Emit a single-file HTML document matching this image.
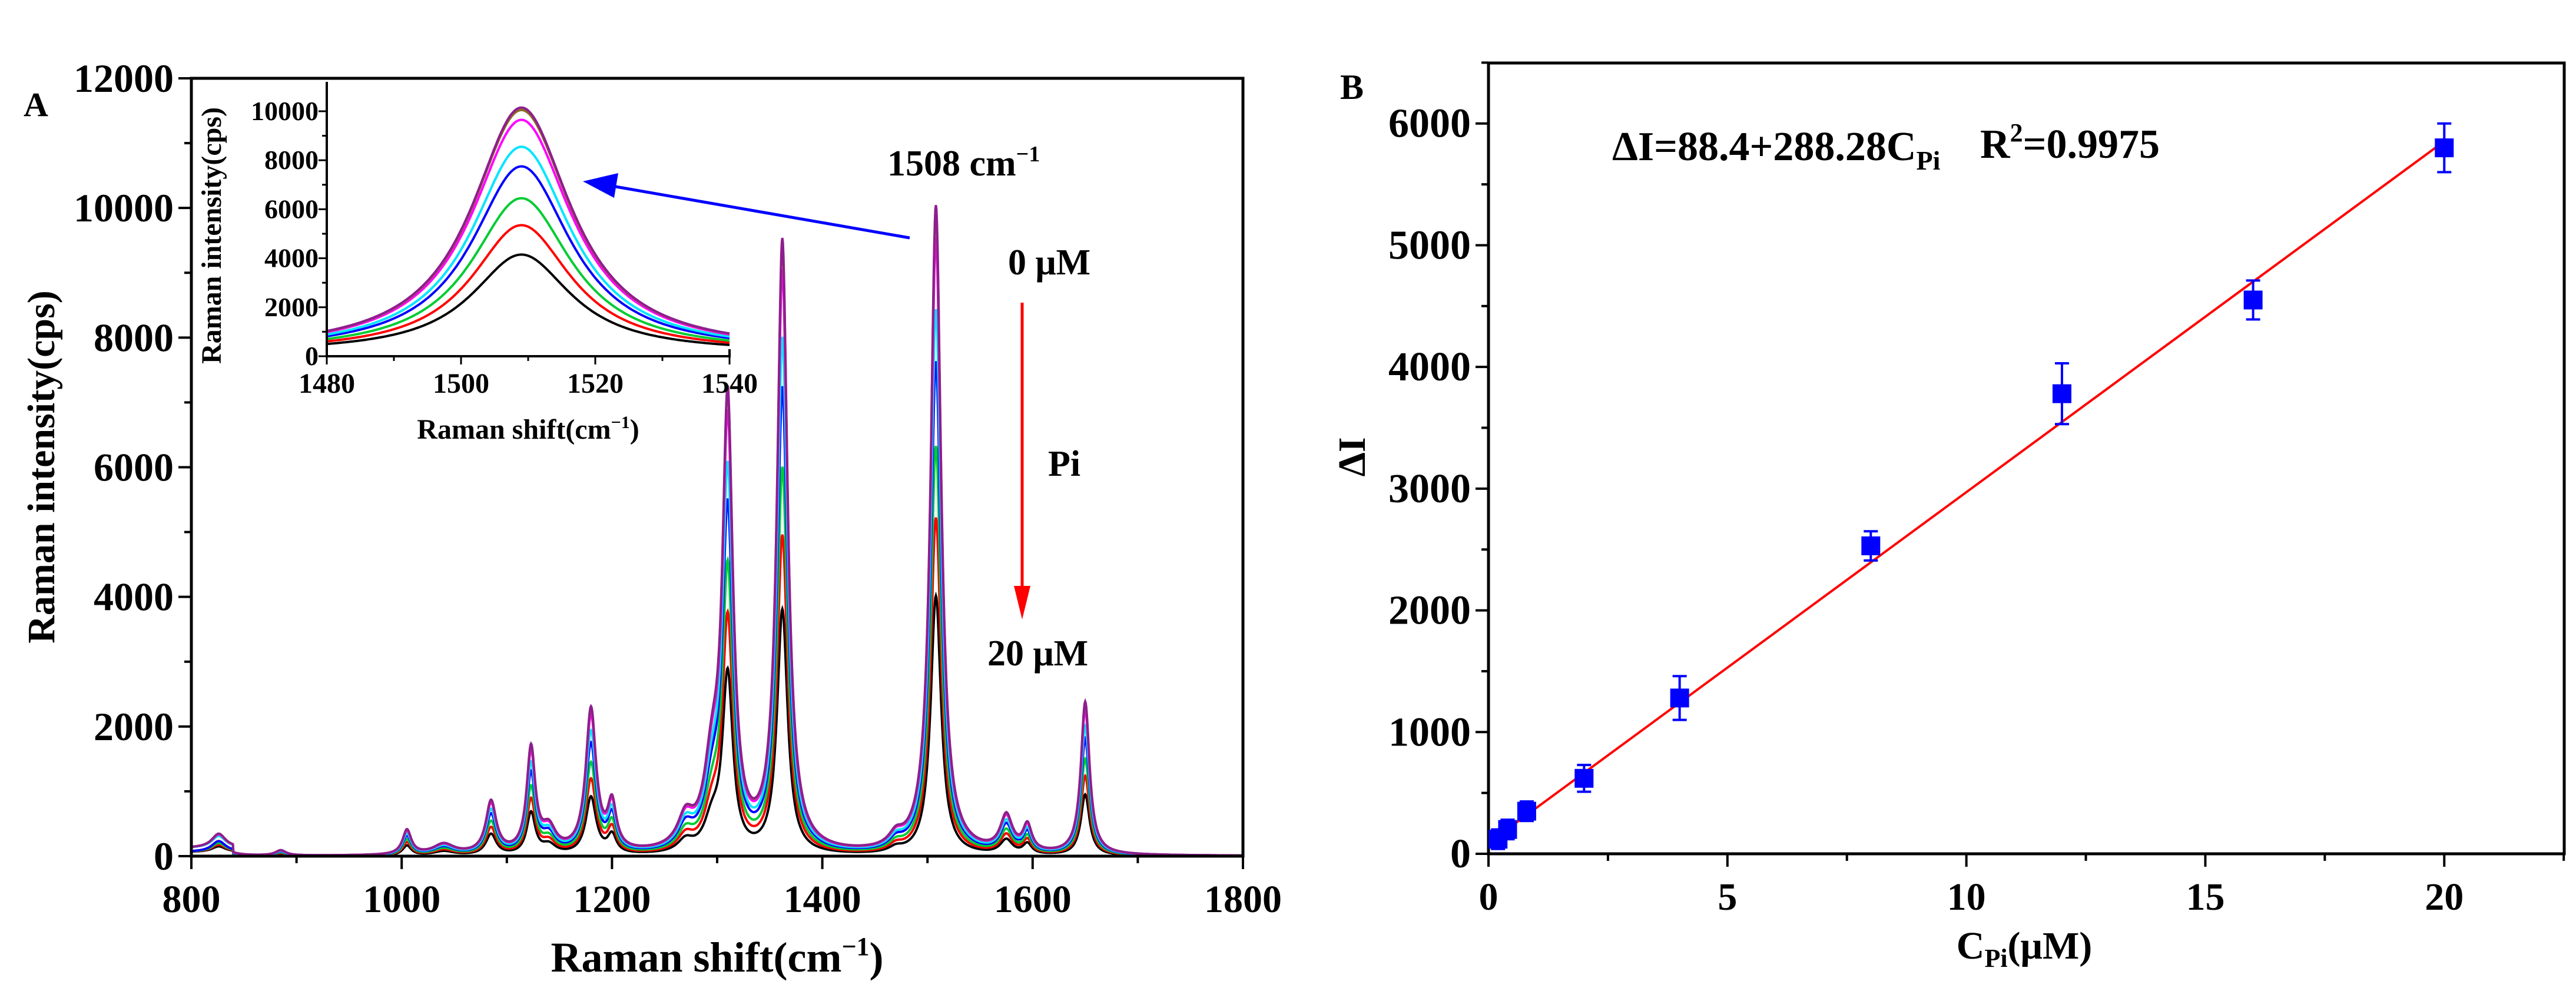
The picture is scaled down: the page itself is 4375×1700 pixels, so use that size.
<!DOCTYPE html>
<html><head><meta charset="utf-8"><style>
html,body{margin:0;padding:0;background:#fff}
svg{display:block;font-family:"Liberation Serif",serif;font-weight:bold}
</style></head><body>
<svg id="fig" width="4375" height="1700" viewBox="0 0 4375 1700" xmlns="http://www.w3.org/2000/svg">
<g id="pa"></g>
<g id="pb"></g>
</svg>
<script>
// ---------- Panel A data ----------
const seriesColors = ["#000000","#ff0000","#00cc33","#0000ff","#00e5ff","#ff00ff","#8b6b1e","#8e1e8e"];
const seriesScale = [0.40,0.52,0.63,0.76,0.84,0.95,0.99,1.0];
const peakPos = [826,885,1005,1040,1085,1123,1140,1180,1200,1270,1295,1310,1362,1470,1508,1575,1595,1650];
const peakHeight = [220,80,380,160,800,1600,350,2200,700,450,1100,6800,9400,180,10000,550,400,2350];
const peakWidth = [8,6,5,12,6,5,8,6,5,9,9,6,6,8,6,7,5,5];
const xTicksA = [800,1000,1200,1400,1600,1800];
const yTicksA = [0,2000,4000,6000,8000,10000,12000];
const insetXTicks = [1480,1500,1520,1540];
const insetYTicks = [0,2000,4000,6000,8000,10000];
const insetPeakPos = 1509, insetWidth = 9, insetBase = 10000;
// ---------- Panel B data ----------
const concX = [0.2,0.4,0.8,2,4,8,12,16,20];
const deltaI = [120,200,350,620,1280,2530,3780,4550,5800];
const errI = [80,80,80,110,180,120,250,160,200];
const fitA = 88.4, fitB = 288.28;
const xTicksB = [0,5,10,15,20];
const yTicksB = [0,1000,2000,3000,4000,5000,6000];

const NS="http://www.w3.org/2000/svg";
function mk(parent,tag,attrs,text){const e=document.createElementNS(NS,tag);for(const k in attrs)e.setAttribute(k,attrs[k]);if(text!==undefined)e.textContent=text;parent.appendChild(e);return e;}

// ---------- Panel A ----------
const pa=document.getElementById('pa');
const AL=325,AR=2111,AT=133,AB=1454;
const ax=v=>AL+(v-800)/1000*(AR-AL), ay=v=>AB-v/12000*(AB-AT);
function specS(x,s){let y=0;for(let i=0;i<peakPos.length;i++){const d=(x-peakPos[i])/peakWidth[i];y+=peakHeight[i]/(1+d*d);}return y*seriesScale[s]+ (x<840?(s>=4?120:60):0);}
const clipA=mk(pa,'clipPath',{id:'clipA'});mk(clipA,'rect',{x:AL,y:AT,width:AR-AL,height:AB-AT});
const gs=mk(pa,'g',{'clip-path':'url(#clipA)'});

for(let s=0;s<seriesColors.length;s++){let d='';for(let x=800;x<=1800;x+=0.5){d+=(x===800?'M':'L')+ax(x).toFixed(1)+','+ay(specS(x,s)).toFixed(1);}
 const p=mk(gs,'path',{d:d,fill:'none',stroke:seriesColors[s],'stroke-width':4});
 }
mk(pa,'rect',{x:AL,y:AT,width:AR-AL,height:AB-AT,fill:'none',stroke:'#000','stroke-width':5,});
for(let v=800;v<=1800;v+=100){const X=ax(v);mk(pa,'line',{x1:X,y1:AB,x2:X,y2:AB+(v%200===0?22:12),stroke:'#000','stroke-width':4});}
xTicksA.forEach(v=>{const t=mk(pa,'text',{x:ax(v),y:AB+95,'font-size':66,'text-anchor':'middle'},v);});
for(let v=0;v<=12000;v+=1000){const Y=ay(v);mk(pa,'line',{x1:AL,y1:Y,x2:AL-(v%2000===0?22:12),y2:Y,stroke:'#000','stroke-width':4});}
yTicksA.forEach(v=>{const t=mk(pa,'text',{x:AL-30,y:ay(v)+23,'font-size':68,'text-anchor':'end'},v);});
mk(pa,'text',{x:1218,y:1650,'font-size':72,'text-anchor':'middle',}).innerHTML='Raman shift(cm<tspan dy="-28" font-size="44">−1</tspan><tspan dy="28">)</tspan>';
mk(pa,'text',{x:0,y:0,'font-size':66,'text-anchor':'middle',transform:'translate(92,793) rotate(-90)',},'Raman intensity(cps)');
mk(pa,'text',{x:40,y:197,'font-size':58,},'A');
mk(pa,'text',{x:1507,y:298,'font-size':62,}).innerHTML='1508 cm<tspan dy="-24" font-size="38">−1</tspan>';
mk(pa,'text',{x:1712,y:466,'font-size':62,},'0 μM');
mk(pa,'text',{x:1780,y:808,'font-size':62,},'Pi');
mk(pa,'text',{x:1677,y:1130,'font-size':62,},'20 μM');
// red arrow
mk(pa,'line',{x1:1736,y1:514,x2:1736,y2:1010,stroke:'#ff0000','stroke-width':5,});
mk(pa,'polygon',{points:'1722,995 1750,995 1736,1052',fill:'#ff0000'});
// inset
const IL=555,IR=1239,IT=139,IB=605;
const ix=v=>IL+(v-1480)/60*(IR-IL), iy=v=>IB-v/11200*(IB-IT);
const ins=mk(pa,'g',{});
mk(ins,'rect',{x:IL,y:IT,width:IR-IL,height:IB-IT,fill:'#fff'});
for(let s=0;s<seriesColors.length;s++){let d='';for(let x=1480;x<=1540;x+=0.25){const dd=(x-insetPeakPos)/insetWidth;const y=insetBase*seriesScale[s]/(1+dd*dd)+150;d+=(x===1480?'M':'L')+ix(x).toFixed(1)+','+iy(y).toFixed(1);}
 const p=mk(ins,'path',{d:d,fill:'none',stroke:seriesColors[s],'stroke-width':4});
 }
mk(ins,'polyline',{points:`${IL},${IT} ${IL},${IB} ${IR},${IB} ${IR},${IB-12}`,fill:'none',stroke:'#000','stroke-width':4});
for(let v=1480;v<=1540;v+=10){mk(ins,'line',{x1:ix(v),y1:IB,x2:ix(v),y2:IB+(v%20===0?14:8),stroke:'#000','stroke-width':3});}
insetXTicks.forEach(v=>{const t=mk(ins,'text',{x:ix(v),y:IB+62,'font-size':48,'text-anchor':'middle'},v);});
for(let v=0;v<=10000;v+=1000){mk(ins,'line',{x1:IL,y1:iy(v),x2:IL-(v%2000===0?14:8),y2:iy(v),stroke:'#000','stroke-width':3});}
insetYTicks.forEach(v=>{const t=mk(ins,'text',{x:IL-14,y:iy(v)+15,'font-size':46,'text-anchor':'end'},v);});
mk(ins,'text',{x:897,y:745,'font-size':48,'text-anchor':'middle',}).innerHTML='Raman shift(cm<tspan dy="-18" font-size="30">−1</tspan><tspan dy="18">)</tspan>';
mk(ins,'text',{x:0,y:0,'font-size':48,'text-anchor':'middle',transform:'translate(375,400) rotate(-90)',},'Raman intensity(cps)');
// blue arrow (drawn over inset)
mk(pa,'line',{x1:1545,y1:404,x2:1040,y2:316,stroke:'#0000ff','stroke-width':5,});
mk(pa,'polygon',{points:'990,308 1050,294 1043,336',fill:'#0000ff'});

// ---------- Panel B ----------
const pb=document.getElementById('pb');
const BL=2528,BR=4355,BT=107,BB=1450;
const bx=v=>BL+v/22.51*(BR-BL), by=v=>BB-v/6497*(BB-BT);
mk(pb,'rect',{x:BL,y:BT,width:BR-BL,height:BB-BT,fill:'none',stroke:'#000','stroke-width':5,});
for(let v=0;v<=22.5;v+=2.5){mk(pb,'line',{x1:bx(v),y1:BB,x2:bx(v),y2:BB+(v%5===0?22:12),stroke:'#000','stroke-width':4});}
xTicksB.forEach(v=>{const t=mk(pb,'text',{x:bx(v),y:BB+95,'font-size':66,'text-anchor':'middle'},v);});
for(let v=0;v<=6500;v+=500){mk(pb,'line',{x1:BL,y1:by(v),x2:BL-(v%1000===0?22:12),y2:by(v),stroke:'#000','stroke-width':4});}
yTicksB.forEach(v=>{const t=mk(pb,'text',{x:BL-30,y:by(v)+23,'font-size':70,'text-anchor':'end'},v);});
const fit=mk(pb,'line',{x1:bx(concX[0]),y1:by(fitA+fitB*concX[0]),x2:bx(concX[concX.length-1]),y2:by(fitA+fitB*concX[concX.length-1]),stroke:'#ff0000','stroke-width':4});

concX.forEach((c,i)=>{const X=bx(c),Y=by(deltaI[i]),Yt=by(deltaI[i]+errI[i]),Yb=by(deltaI[i]-errI[i]);
 const g=mk(pb,'g',{});
 mk(g,'line',{x1:X,y1:Yt,x2:X,y2:Yb,stroke:'#0000ff','stroke-width':4});
 mk(g,'line',{x1:X-12,y1:Yt,x2:X+12,y2:Yt,stroke:'#0000ff','stroke-width':4});
 mk(g,'line',{x1:X-12,y1:Yb,x2:X+12,y2:Yb,stroke:'#0000ff','stroke-width':4});
 mk(g,'rect',{x:X-16,y:Y-16,width:32,height:32,fill:'#0000ff'});});
mk(pb,'text',{x:2296,y:168,'font-size':60,'text-anchor':'middle',},'B');
mk(pb,'text',{x:2738,y:272,'font-size':70,}).innerHTML='ΔI=88.4+288.28C<tspan dy="16" font-size="46">Pi</tspan>';
mk(pb,'text',{x:3363,y:268,'font-size':70,}).innerHTML='R<tspan dy="-28" font-size="44">2</tspan><tspan dy="28">=0.9975</tspan>';
mk(pb,'text',{x:0,y:0,'font-size':66,'text-anchor':'middle',transform:'translate(2318,776) rotate(-90)',},'ΔI');
mk(pb,'text',{x:3438,y:1628,'font-size':66,'text-anchor':'middle',}).innerHTML='C<tspan dy="14" font-size="44">Pi</tspan><tspan dy="-14">(μM)</tspan>';
</script>
</body></html>
